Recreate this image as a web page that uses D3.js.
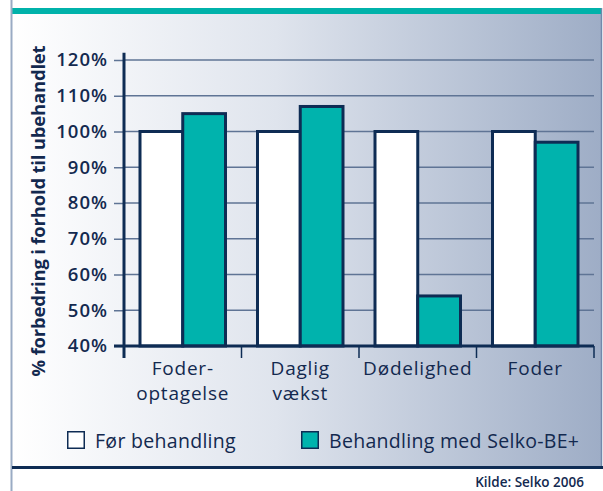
<!DOCTYPE html>
<html><head><meta charset="utf-8">
<script src="https://cdn.jsdelivr.net/npm/d3@7/dist/d3.min.js"></script>
<style>
html,body{margin:0;padding:0;background:#fff;}
svg{display:block;}
text{font-family:"Open Sans",sans-serif;fill:#13294f;}
</style></head>
<body>
<svg id="c" width="603" height="491"></svg>
<script>
const categories = [["Foder-","optagelse"],["Daglig","vækst"],["Dødelighed"],["Foder"]];
const seriesNames = ["Før behandling","Behandling med Selko-BE+"];
const before = [100,100,100,100];
const after = [105,107,54,97];
const yTicks = [40,50,60,70,80,90,100,110,120];
const yLabel = "% forbedring i forhold til ubehandlet";
const source = "Kilde: Selko 2006";

const navy = "#0e2c54", teal = "#00b3ad", grid = "#5f7495";
const svg = d3.select("#c");
const defs = svg.append("defs");
const lg = defs.append("linearGradient").attr("id","bg").attr("x1","0").attr("x2","1").attr("y1","0").attr("y2","0");
lg.append("stop").attr("offset","0").attr("stop-color","#ffffff");
lg.append("stop").attr("offset","0.45").attr("stop-color","#dfe4ed");
lg.append("stop").attr("offset","1").attr("stop-color","#9eadc6");

// frame
svg.append("rect").attr("x",12).attr("y",14).attr("width",589).attr("height",452).attr("fill","url(#bg)");
svg.append("rect").attr("x",12).attr("y",8).attr("width",589).attr("height",6).attr("fill","#00b2aa");
svg.append("line").attr("x1",11.5).attr("x2",11.5).attr("y1",0).attr("y2",491).attr("stroke","#9aabc4").attr("stroke-width",2);
svg.append("line").attr("x1",601.5).attr("x2",601.5).attr("y1",8).attr("y2",466).attr("stroke","#7189ab").attr("stroke-width",1.5);
svg.append("rect").attr("x",12).attr("y",466).attr("width",591).attr("height",3).attr("fill",navy);

const keys = categories.map(c=>c.join(" "));
const x = d3.scaleBand().domain(keys).range([124,594]).paddingInner(0).paddingOuter(0);
const xi = d3.scaleBand().domain([0,1]).range([16, x.bandwidth()-16]).padding(0);
const y = d3.scaleLinear().domain([40,120]).range([346,60]);

// gridlines + y ticks
const g = svg.append("g");
g.selectAll("line.grid").data(yTicks.slice(1)).join("line")
 .attr("x1",124).attr("x2",594).attr("y1",d=>y(d)).attr("y2",d=>y(d))
 .attr("stroke",grid).attr("stroke-width",1.5);
const yAxis = d3.axisLeft(y).tickValues(yTicks).tickSize(10).tickPadding(6).tickFormat(d=>d+"%");
const ya = svg.append("g").attr("transform","translate(124,0)").call(yAxis);
ya.select(".domain").remove();
ya.selectAll(".tick line").attr("stroke",grid).attr("stroke-width",1.5);
ya.selectAll(".tick text").attr("font-family","Open Sans").attr("font-size",18.5).attr("font-weight",600)
  .attr("letter-spacing","1px").attr("fill","#13294f");

// bars
const data = keys.map((k,i)=>({k, v:[before[i],after[i]]}));
const bg = svg.append("g").selectAll("g").data(data).join("g").attr("transform",d=>`translate(${x(d.k)},0)`);
bg.selectAll("rect").data(d=>d.v.map((v,j)=>({v,j}))).join("rect")
 .attr("x",d=>xi(d.j)).attr("width",xi.bandwidth())
 .attr("y",d=>y(d.v)).attr("height",d=>y(40)-y(d.v))
 .attr("fill",d=>d.j===0?"#ffffff":teal).attr("stroke",navy).attr("stroke-width",3);

// axes lines
svg.append("line").attr("x1",124).attr("x2",124).attr("y1",y(122)).attr("y2",358).attr("stroke",navy).attr("stroke-width",3);
svg.append("line").attr("x1",114).attr("x2",594).attr("y1",y(40)).attr("y2",y(40)).attr("stroke",navy).attr("stroke-width",3);
const xt = keys.map(k=>x(k)).concat([x.range()[1]]);
svg.append("g").selectAll("line").data(xt).join("line")
 .attr("x1",d=>d).attr("x2",d=>d).attr("y1",y(40)).attr("y2",358).attr("stroke",navy).attr("stroke-width",1.5);

// category labels
const cl = svg.append("g").selectAll("text").data(categories).join("text")
 .attr("x",(d,i)=>x(keys[i])+x.bandwidth()/2).attr("y",375)
 .attr("text-anchor","middle").attr("font-size",19).attr("font-weight",500).attr("letter-spacing","0.8px");
cl.selectAll("tspan").data(d=>d).join("tspan").attr("x",function(){return d3.select(this.parentNode).attr("x");})
 .attr("dy",(d,i)=>i===0?0:25).text(d=>d);

// y label
svg.append("text").attr("transform",`translate(45,211) rotate(-90)`).attr("text-anchor","middle")
 .attr("font-size",18.5).attr("font-weight",700).attr("letter-spacing","-0.2px").text(yLabel);

// legend
const lx = [67,301];
const leg = svg.append("g").selectAll("g").data(seriesNames).join("g").attr("transform",(d,i)=>`translate(${lx[i]},431)`);
leg.append("rect").attr("x",0.75).attr("y",0.75).attr("width",16.5).attr("height",16.5)
 .attr("fill",(d,i)=>i===0?"#fff":teal).attr("stroke",navy).attr("stroke-width",1.5);
leg.append("text").attr("x",28).attr("y",17).attr("font-size",19.5).attr("font-weight",500).attr("letter-spacing","0.3px").text(d=>d);

svg.append("text").attr("x",584).attr("y",487).attr("text-anchor","end").attr("font-size",13.5).attr("font-weight",600).text(source);
</script>
</body></html>
